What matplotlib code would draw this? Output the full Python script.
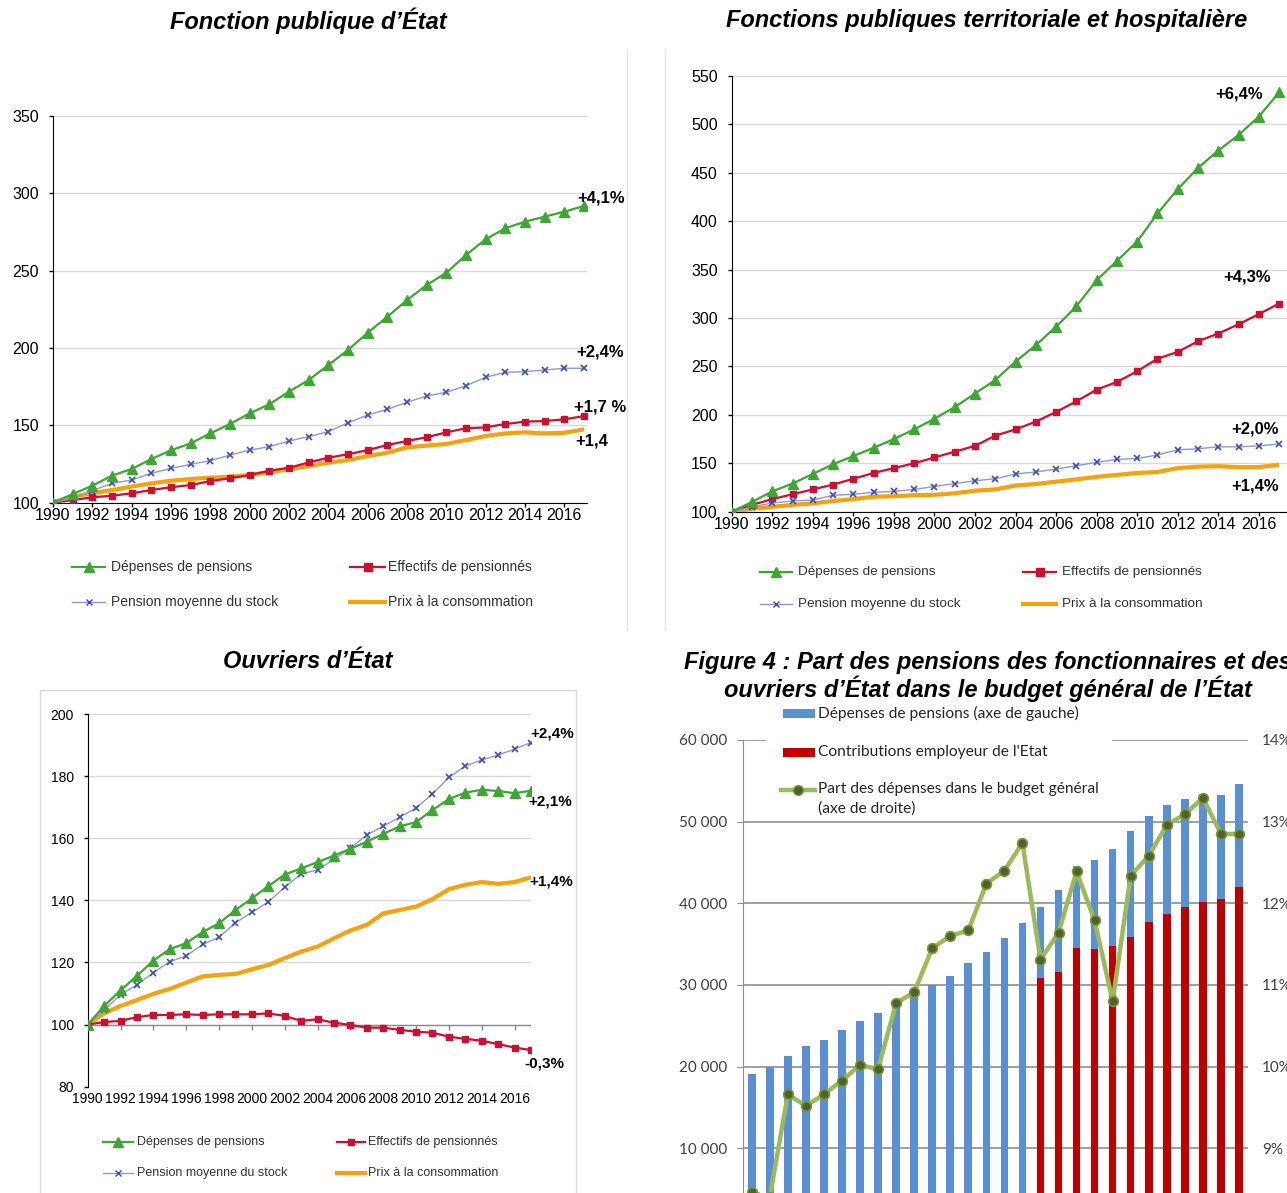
import matplotlib.pyplot as plt
from matplotlib.lines import Line2D
from matplotlib.patches import Rectangle

W, H = 1287, 1193

years = list(range(1990, 2018))

# Fonction publique d'Etat (base 100 en 1990)
fpe_depenses = [100, 105.6, 111, 117.5, 121.8, 128.2, 133.9, 138.4, 144.8, 150.9, 157.8, 163.6, 171.8, 179.3,
                189, 198.7, 209.9, 220.2, 231, 240.7, 248.7, 260.1, 270.3, 277.4, 281.7, 284.9, 288.2, 291.8]
fpe_moyenne = [100, 102.8, 107.8, 112.5, 114.7, 119, 122.2, 124.8, 127.2, 130.8, 134, 136.2, 139.9, 142.7,
               145.9, 151.7, 156.7, 160.4, 164.9, 169, 171.4, 175.6, 181.1, 184.3, 184.7, 185.8, 186.9, 186.9]
fpe_effectifs = [100, 101.7, 103.5, 104.5, 106.1, 108.2, 110, 111.4, 114, 115.8, 117.9, 120.7, 122.6, 126,
                 129.1, 131.3, 134, 137.3, 139.9, 142.3, 145.5, 148.1, 148.7, 150.9, 152.4, 152.8, 153.9, 156]
fpe_prix = [100, 103.9, 106.1, 108.2, 110.4, 112.5, 114.2, 115.3, 116.2, 116.8, 117.9, 119.7, 121.6, 123.7,
            125.9, 127.6, 130.2, 132.3, 135.8, 136.9, 138, 140.5, 143.1, 144.8, 145.5, 144.8, 145.2, 147.4]

# Fonctions publiques territoriale et hospitaliere
fpth_depenses = [100, 110, 121, 129, 139, 149, 157.5, 166, 175, 185, 196, 208, 222, 236,
                 255, 272, 291, 312, 339, 359, 379, 408, 433, 455, 473, 489, 508, 533]
fpth_effectifs = [100, 107, 113, 118, 123, 128, 134, 140, 145, 150, 156, 162, 168, 178.5,
                  185, 193, 203, 214, 226, 234, 245, 258, 265, 276, 284, 293.5, 304, 315]
fpth_moyenne = [100, 105, 109, 111, 112, 117, 118, 120, 121, 123, 126, 129, 132, 134,
                139, 141, 144, 147.5, 151, 154, 155, 158.5, 164, 165, 167, 167, 168, 170]
fpth_prix = [100, 103, 105, 107, 108.6, 111, 113, 115.5, 116, 117, 117.5, 119, 121.7, 123,
             127, 128.6, 131, 133.4, 136, 138, 140, 141, 145, 146.5, 147, 146, 146, 148.5]

# Ouvriers d'Etat
ode_depenses = [100, 106, 111, 115.7, 120.6, 124.3, 126.2, 129.8, 132.6, 136.9, 140.6, 144.6, 148.3, 150.3,
                152.3, 154.4, 156.6, 158.9, 161.4, 163.8, 165.2, 169.1, 172.6, 174.7, 175.6, 175.2, 174.5, 175.3]
ode_moyenne = [100, 104.7, 109.6, 112.8, 116.7, 120.3, 122.1, 125.8, 128.1, 132.8, 136.1, 139.5, 144.2, 148.5,
               149.8, 153.2, 156.8, 161.1, 163.8, 166.8, 169.7, 174.3, 179.6, 183.3, 185.2, 186.8, 188.7, 190.8]
ode_effectifs = [100, 100.8, 101.2, 102.4, 103.1, 103.1, 103.3, 103.1, 103.3, 103.3, 103.3, 103.6, 102.8, 101.2,
                 101.7, 100.6, 99.9, 99, 99, 98.3, 97.7, 97.4, 96.1, 95.4, 94.8, 93.7, 92.6, 91.8]
ode_prix = [100, 103.6, 106, 107.9, 109.9, 111.5, 113.5, 115.5, 116, 116.3, 117.8, 119.2, 121.4, 123.5,
            125.1, 127.8, 130.3, 132.1, 135.8, 136.9, 138, 140.4, 143.6, 145, 145.9, 145.3, 145.9, 147.4]

# Figure 4 : budget general (M EUR et %)
depenses_pensions = [19100, 20000, 21300, 22530, 23260, 24490, 25590, 26530, 27960, 28770, 30000, 31100, 32650, 34000,
                     35720, 37550, 39590, 41630, 44570, 45300, 46650, 48860, 50690, 52080, 52810, 53420, 53300, 54650]
contrib_years = list(range(2006, 2018))
contributions = [30820, 31630, 34490, 34370, 34810, 35910, 37750, 38690, 39590, 40200, 40490, 42040]
part_budget = [8.46, 8.4, 9.66, 9.52, 9.66, 9.83, 10.02, 9.97, 10.78, 10.91, 11.45, 11.6, 11.67, 12.24,
               12.4, 12.74, 11.31, 11.64, 12.39, 11.79, 10.8, 12.34, 12.58, 12.96, 13.09, 13.29, 12.85, 12.85]

GREEN = '#3fa535'
RED = '#cc1030'
BLUE_L = '#8e98da'
BLUE_D = '#3c4fb0'
ORANGE = '#f4a20e'
ARIAL = 'Liberation Sans'
CALIBRI = 'Lato'

plt.rcParams['font.family'] = ARIAL

fig = plt.figure(figsize=(W / 100, H / 100), dpi=100)


def rect(x0, y0, x1, y1):
    # pixel box (top-left origin) -> figure fraction
    return [x0 / W, 1 - y1 / H, (x1 - x0) / W, (y1 - y0) / H]


def ftext(x, y, s, **kw):
    fig.text(x / W, 1 - y / H, s, **kw)


def line_panel(box, xmax, ylim, yticks, dep, eff, moy, prix, fs, ms):
    ax = fig.add_axes(rect(*box))
    ax.plot(years, prix, color=ORANGE, lw=3, zorder=3, solid_capstyle='butt')
    ax.plot(years, eff, color=RED, lw=1.6, marker='s', ms=ms * 0.7, zorder=4)
    ax.plot(years, moy, color=BLUE_L, lw=1, marker='x', ms=ms * 0.6, mec=BLUE_D, mew=1.2, zorder=5)
    ax.plot(years, dep, color=GREEN, lw=1.6, marker='^', ms=ms, zorder=6)
    ax.set_xlim(1990, xmax)
    ax.set_ylim(*ylim)
    ax.set_yticks(yticks)
    ax.set_xticks(years[::2])
    ax.yaxis.grid(True, color='#d9d9d9', lw=1)
    ax.set_axisbelow(True)
    for s in ['top', 'right']:
        ax.spines[s].set_visible(False)
    ax.tick_params(labelsize=fs, length=3, width=1)
    ax.tick_params(axis='y', pad=7)
    ax.tick_params(axis='x', pad=1)
    return ax


def legend_block(rows, cols_line, cols_text, fs, ms):
    specs = [
        ('Dépenses de pensions', GREEN, 1.6, '^', ms, GREEN),
        ('Effectifs de pensionnés', RED, 1.6, 's', ms * 0.75, RED),
        ('Pension moyenne du stock', BLUE_L, 1, 'x', ms * 0.7, BLUE_D),
        ('Prix à la consommation', ORANGE, 3, None, 0, ORANGE),
    ]
    for i, (lab, col, lw, mk, m, mec) in enumerate(specs):
        y = rows[i // 2]
        x0, x1 = cols_line[i % 2]
        yy = 1 - y / H
        fig.add_artist(Line2D([x0 / W, (x0 + x1) / 2 / W, x1 / W], [yy] * 3, color=col, lw=lw,
                              marker=mk, markevery=[1], ms=m, mec=mec, mfc=mec, mew=1))
        ftext(cols_text[i % 2], y, lab, fontsize=fs, va='center', ha='left', color='#333333')


# separators / frames
fig.add_artist(Line2D([627 / W] * 2, [1 - 50 / H, 1 - 630 / H], color='#e3e3e3', lw=1))
fig.add_artist(Line2D([665 / W] * 2, [1 - 50 / H, 1 - 630 / H], color='#e8e8e8', lw=1))
fig.add_artist(Rectangle((40 / W, -0.01), (576 - 40) / W, 1 - 690 / H + 0.01, fill=False,
                         edgecolor='#d9d9d9', lw=1))

title_kw = dict(fontsize=17, fontweight='bold', fontstyle='italic', ha='center', va='center', color='black')
ftext(308, 21, 'Fonction publique d’État', **title_kw)
ftext(987, 21, 'Fonctions publiques territoriale et hospitalière', **title_kw)
ftext(308, 661, 'Ouvriers d’État', **title_kw)
ftext(988, 662, 'Figure 4 : Part des pensions des fonctionnaires et des', **title_kw)
ftext(988, 689, 'ouvriers d’État dans le budget général de l’État', **title_kw)

# panel 1
ax1 = line_panel((53, 116, 587, 502.7), 2017.15, (100, 350), range(100, 351, 50),
                 fpe_depenses, fpe_effectifs, fpe_moyenne, fpe_prix, 11.5, 7)
ann = dict(fontsize=12, fontweight='bold', ha='center', va='center')
ftext(601, 198, '+4,1%', **ann)
ftext(600, 352, '+2,4%', **ann)
ftext(600, 407, '+1,7 %', **ann)
ftext(592, 441, '+1,4', **ann)
legend_block((567, 602), [(72, 105), (350, 385)], (111, 388), 10, 7)

# panel 2
ax2 = line_panel((731.7, 76, 1290, 511.7), 2017.54, (100, 550), range(100, 551, 50),
                 fpth_depenses, fpth_effectifs, fpth_moyenne, fpth_prix, 11.5, 7)
ftext(1239, 94, '+6,4%', **ann)
ftext(1247, 277, '+4,3%', **ann)
ftext(1255, 429, '+2,0%', **ann)
ftext(1255, 486, '+1,4%', **ann)
legend_block((572, 604), [(760, 792), (1023, 1056)], (798, 1062), 9.7, 7)

# panel 3
ax3 = line_panel((87.7, 714, 531, 1086.7), 2017, (80, 200), range(80, 201, 20),
                 ode_depenses, ode_effectifs, ode_moyenne, ode_prix, 10, 6.5)
ax3.spines['bottom'].set_visible(False)
ax3.tick_params(axis='x', length=0, pad=4)
ax3.axhline(100, color='#8c8c8c', lw=1, zorder=2)
ax3.vlines(years[2::2], 98.4, 100, color='#8c8c8c', lw=1, zorder=2)
ann3 = dict(fontsize=11, fontweight='bold', ha='center', va='center')
ftext(552, 733, '+2,4%', **ann3)
ftext(550, 801, '+2,1%', **ann3)
ftext(551, 881, '+1,4%', **ann3)
ftext(544, 1063, '-0,3%', **ann3)
legend_block((1142, 1173), [(103, 133), (337, 365)], (137, 368), 9, 6.5)

# panel 4 : bars + share
idx = list(range(len(years)))
ax4 = fig.add_axes(rect(742.7, 740, 1248, 1230))
ax4.bar(idx, depenses_pensions, width=0.42, color='#5a8fd6', zorder=2)
ax4.bar([years.index(y) for y in contrib_years], contributions, width=0.42, color='#c00000', zorder=3)
ax4.set_xlim(-0.5, len(years) - 0.5)
ax4.set_ylim(0, 60000)
ax4.set_yticks(range(10000, 60001, 10000))
ax4.set_yticklabels([f'{v // 1000} 000' for v in range(10000, 60001, 10000)],
                    fontfamily=CALIBRI, fontsize=11, color='#404040')
ax4.set_xticks([])
ax4.yaxis.grid(True, color='#8f8f8f', lw=1.2)
ax4.set_axisbelow(True)
for s in ['top', 'right', 'bottom']:
    ax4.spines[s].set_visible(False)
ax4.spines['left'].set_color('#8f8f8f')
ax4.tick_params(axis='y', length=4, color='#8f8f8f', pad=7)

ax5 = ax4.twinx()
ax5.plot(idx, part_budget, color='#9bbb59', lw=3.2, marker='o', ms=7, mfc='#4f6228', mec='#77933c',
         mew=1.2, zorder=5)
ax5.set_ylim(8, 14)
ax5.set_yticks(range(9, 15))
ax5.set_yticklabels([f'{v}%' for v in range(9, 15)], fontfamily=CALIBRI, fontsize=11, color='#404040')
for s in ['top', 'right', 'bottom', 'left']:
    ax5.spines[s].set_visible(False)
ax5.tick_params(axis='y', length=0, pad=10)

# legend of panel 4 (white box hides top gridline)
fig.add_artist(Rectangle((766 / W, 1 - 818 / H), (1112 - 766) / W, (818 - 702) / H,
                         facecolor='white', edgecolor='none', zorder=3))
fig.add_artist(Rectangle((783 / W, 1 - 718 / H), 32 / W, 9 / H, facecolor='#5a8fd6', edgecolor='none', zorder=4))
fig.add_artist(Rectangle((783 / W, 1 - 757 / H), 32 / W, 9 / H, facecolor='#c00000', edgecolor='none', zorder=4))
fig.add_artist(Line2D([781 / W, 798 / W, 815 / W], [1 - 790 / H] * 3, color='#9bbb59', lw=3.2,
                      marker='o', markevery=[1], ms=7, mfc='#4f6228', mec='#77933c', zorder=4))
leg_kw = dict(fontsize=11.2, fontfamily=CALIBRI, va='center', ha='left', color='#262626', zorder=5)
ftext(818, 713, 'Dépenses de pensions (axe de gauche)', **leg_kw)
ftext(818, 752, "Contributions employeur de l'Etat", **leg_kw)
ftext(818, 789, 'Part des dépenses dans le budget général', **leg_kw)
ftext(818, 809, '(axe de droite)', **leg_kw)

fig.savefig('out.png', dpi=100)
